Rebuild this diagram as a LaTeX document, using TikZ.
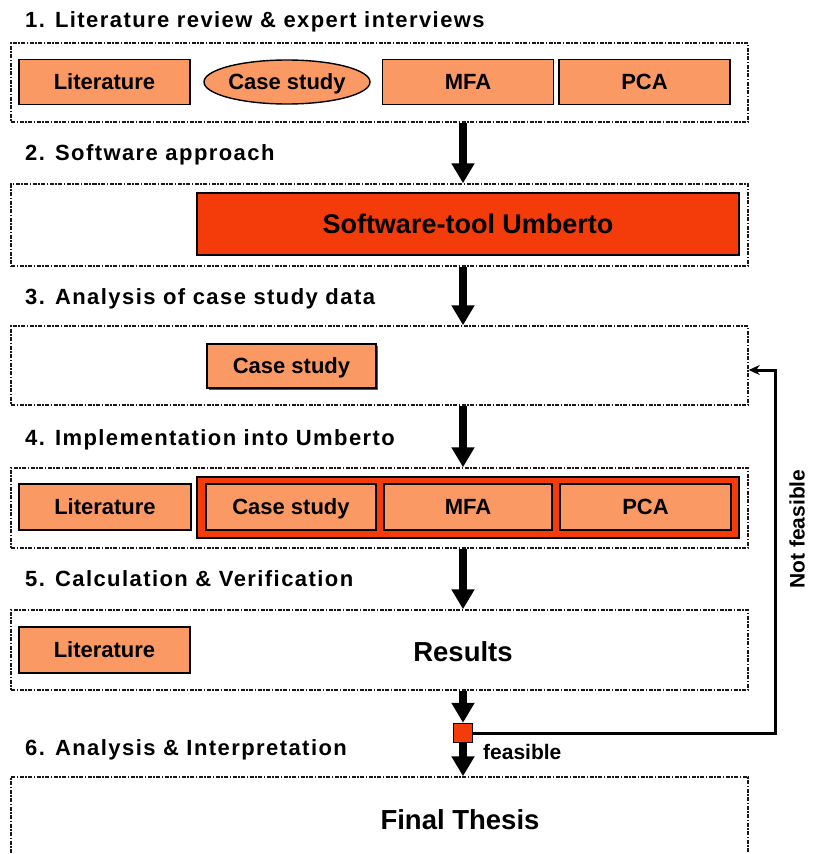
\documentclass[tikz,border=0pt]{standalone}
\usepackage{fontspec}
\setmainfont{Liberation Sans}
\usetikzlibrary{arrows.meta,shapes.geometric,shadows,calc}
\definecolor{lorange}{RGB}{250,153,100}
\definecolor{umred}{RGB}{244,59,10}
\begin{document}
\begin{tikzpicture}[x=1pt,y=-1pt,
  frame/.style={draw=black!90, line width=1.5pt, dash pattern=on 4pt off 1.5pt on 1.5pt off 1.5pt, minimum width=737pt, inner sep=0pt},
  ob/.style={draw=black, line width=1.4pt, fill=lorange, minimum width=171pt, minimum height=45pt, inner sep=0pt, text height=15.7pt, text depth=0pt, font=\fontsize{22}{22}\selectfont\bfseries},
  head/.style={anchor=base west, inner sep=0pt, font=\fontsize{22}{22}\selectfont\bfseries\addfontfeatures{LetterSpace=6.5}},
  big/.style={inner sep=0pt, text height=19.7pt, text depth=0pt, font=\fontsize{27.5}{28}\selectfont\bfseries},
  small/.style={inner sep=0pt, font=\fontsize{21}{21}\selectfont\bfseries},
  redbox/.style={draw=black, fill=umred},
  flow/.style={line width=8pt, -{Triangle[length=20pt,width=22pt]}},
  fb/.style={line width=3pt, -{Stealth[length=11pt,width=10pt]}}]
\useasboundingbox (0,0) rectangle (816,854);
\clip (0,0) rectangle (816,854);

% frames
\node[frame, minimum height=79pt] (f1) at (379.5,82.5) {};
\node[frame, minimum height=82pt] (f2) at (379.5,225) {};
\node[frame, minimum height=79pt] (f3) at (379.5,365.5) {};
\node[frame, minimum height=80pt] (f4) at (379.5,508) {};
\node[frame, minimum height=80pt] (f5) at (379.5,650) {};
\node[frame, minimum height=120pt] (f6) at (379.5,837) {};

% headings
\node[head] (h1) at (25,27) {1. Literature review \& expert interviews};
\node[head] (h2) at (25,160) {2. Software approach};
\node[head] (h3) at (25,304) {3. Analysis of case study data};
\node[head] (h4) at (25,445) {4. Implementation into Umberto};
\node[head] (h5) at (25,586) {5. Calculation \& Verification};
\node[head] (h6) at (25,755) {6. Analysis \& Interpretation};

% section 1
\node[ob] (lit1) at (104.5,82) {Literature};
\node[ob, ellipse, minimum width=160pt, minimum height=44pt] (cs1) at (287,82) {Case study};
\node[ob] (mfa1) at (468,82) {MFA};
\node[ob] (pca1) at (644.5,82) {PCA};

% section 2
\node[redbox, line width=1.5pt, minimum width=542pt, minimum height=62pt, text height=19.3pt, text depth=0pt, font=\fontsize{27}{27}\selectfont\bfseries] (umb) at (468,224) {Software-tool Umberto};

% section 3
\node[ob, minimum width=169pt, minimum height=44pt, drop shadow={shadow xshift=1.5pt, shadow yshift=-1.5pt, fill=black!65, opacity=1}] (cs3) at (291.5,366) {Case study};

% section 4
\node[redbox, line width=2.2pt, minimum width=542pt, minimum height=61pt] (umb4) at (468,507.5) {};
\node[ob, minimum width=172pt, minimum height=46pt] (lit4) at (105,507) {Literature};
\node[ob, minimum width=170pt, minimum height=46pt] (cs4) at (291,507) {Case study};
\node[ob, minimum width=168pt, minimum height=46pt] (mfa4) at (468,507) {MFA};
\node[ob, minimum width=171pt, minimum height=46pt] (pca4) at (645.5,507) {PCA};

% section 5
\node[ob, minimum height=46pt] (lit5) at (104.5,650) {Literature};
\node[big] (res) at (463,652) {Results};

% decision and final
\node[redbox, line width=1.5pt, minimum size=19pt, inner sep=0pt] (sq) at (463,733) {};
\node[big] (fin) at (460,820) {Final Thesis};
\node[small, anchor=west] (fe) at (483,752) {feasible};
\node[small, rotate=90] (nf) at (797,529) {Not feasible};

% arrows
\coordinate (ax) at (463,0);
\draw[flow] (f1.south -| ax) -- (f2.north -| ax);
\draw[flow] (f2.south -| ax) -- (f3.north -| ax);
\draw[flow] (f3.south -| ax) -- (f4.north -| ax);
\draw[flow] (f4.south -| ax) -- (f5.north -| ax);
\draw[flow] (f5.south -| ax) -- (sq.north);
\draw[flow] (sq.south) -- (f6.north -| ax);

% feedback
\coordinate (fbx) at (775,370);
\draw[fb] (sq.east) -| (fbx) -- (f3.east |- fbx);
\end{tikzpicture}
\end{document}
